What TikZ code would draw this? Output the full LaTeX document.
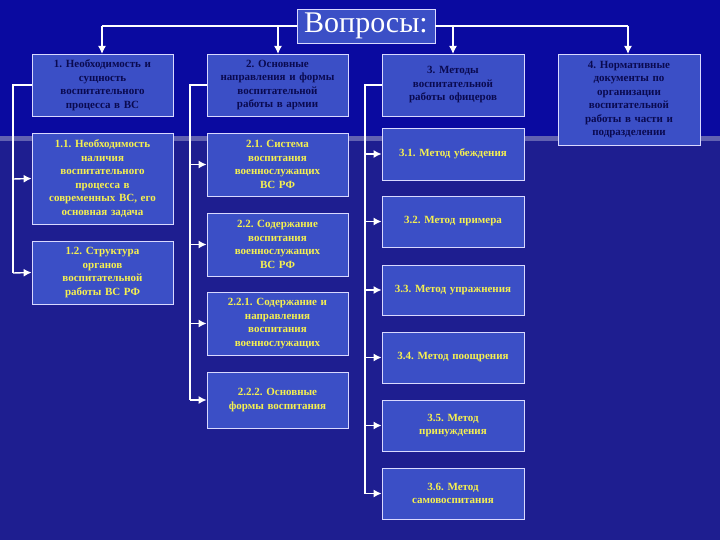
\documentclass[tikz,border=0pt]{standalone}
\usepackage{fontspec}
\setmainfont{Liberation Serif}
\frenchspacing
\usetikzlibrary{arrows.meta}
\definecolor{bgtop}{HTML}{0A0AA0}
\definecolor{bgbot}{HTML}{1E1E90}
\definecolor{boxfill}{HTML}{3B4FC6}
\definecolor{navy}{HTML}{0A0A50}
\definecolor{ytext}{HTML}{F5F050}
\tikzset{
 bx/.style={draw=white!85!blue, line width=0.8pt, fill=boxfill, inner sep=2pt, align=center, font=\fontsize{11}{13.5}\selectfont\bfseries},
 hd/.style={bx, text=navy},
 sb/.style={bx, text=ytext},
 con/.style={draw=white, line width=1.4pt},
 arr/.style={con, -{Latex[length=8pt,width=8pt]}},
}
\begin{document}
\begin{tikzpicture}[x=1pt,y=-1pt]
\fill[bgtop] (0,0) rectangle (720,138);
\fill[bgbot] (0,138) rectangle (720,540);
\fill[white!30!bgbot] (0,136) rectangle (720,141);
\useasboundingbox (0,0) rectangle (720,540);
% title
\node[bx, text=white, font=\fontsize{30}{32}\selectfont, minimum width=138pt, minimum height=34pt] (t) at (366,26) {Вопросы:};
% column boxes
\newcommand{\bb}[6]{\node[#1, text width=#4-#2-6pt, minimum width=#4-#2, minimum height=#5-#3] (#6) at ({(#2+#4)/2},{(#3+#5)/2})}
\bb{hd}{32}{54}{173}{116}{b1} {1. Необходимость и\\ сущность\\ воспитательного\\ процесса в ВС};
\bb{sb}{32}{133}{173}{224}{b11} {1.1. Необходимость\\ наличия\\ воспитательного\\ процесса в\\ современных ВС, его\\ основная задача};
\bb{sb}{32}{241}{173}{304}{b12} {1.2. Структура\\ органов\\ воспитательной\\ работы ВС РФ};
\bb{hd}{207}{54}{348}{116}{b2} {2. Основные\\ направления и формы\\ воспитательной\\ работы в армии};
\bb{sb}{207}{133}{348}{196}{b21} {2.1. Система\\ воспитания\\ военнослужащих\\ ВС РФ};
\bb{sb}{207}{213}{348}{276}{b22} {2.2. Содержание\\ воспитания\\ военнослужащих\\ ВС РФ};
\bb{sb}{207}{292}{348}{355}{b221} {2.2.1. Содержание и\\ направления\\ воспитания\\ военнослужащих};
\bb{sb}{207}{372}{348}{428}{b222} {2.2.2. Основные\\ формы воспитания\\[10pt]};
\bb{hd}{382}{54}{524}{116}{b3} {3. Методы\\ воспитательной\\ работы офицеров};
\bb{sb}{382}{128}{524}{180}{b31} {3.1. Метод убеждения};
\bb{sb}{382}{196}{524}{247}{b32} {3.2. Метод примера\\[8pt]};
\bb{sb}{382}{265}{524}{315}{b33} {3.3. Метод упражнения\\[8pt]};
\bb{sb}{382}{332}{524}{383}{b34} {3.4. Метод поощрения\\[4pt]};
\bb{sb}{382}{400}{524}{451}{b35} {3.5. Метод\\ принуждения};
\bb{sb}{382}{468}{524}{519}{b36} {3.6. Метод\\ самовоспитания};
\bb{hd}{558}{54}{700}{145}{b4} {4. Нормативные\\ документы по\\ организации\\ воспитательной\\ работы в части и\\ подразделении};
% top connectors
\coordinate (tl) at (102,26);
\coordinate (tr) at (628,26);
\draw[con] (t.west) -- (tl);
\draw[con] (t.east) -- (tr);
\draw[arr] (tl) -- (102,54);
\draw[arr] (278,26) -- (278,54);
\draw[arr] (453,26) -- (453,54);
\draw[arr] (tr) -- (628,54);
% left branches
\coordinate (l1) at (13,85);
\draw[con] (b1.west) -- (l1) -- (13,273);
\draw[arr] (13,179) -- (b11.west);
\draw[arr] (13,273) -- (b12.west);
\coordinate (l2) at (190,85);
\draw[con] (b2.west) -- (l2) -- (190,400);
\foreach \n in {b21,b22,b221,b222} \draw[arr] (190,0 |- \n.west) -- (\n.west);
\coordinate (l3) at (365,85);
\draw[con] (b3.west) -- (l3) -- (365,494);
\foreach \n in {b31,b32,b33,b34,b35,b36} \draw[arr] (365,0 |- \n.west) -- (\n.west);
\end{tikzpicture}
\end{document}
